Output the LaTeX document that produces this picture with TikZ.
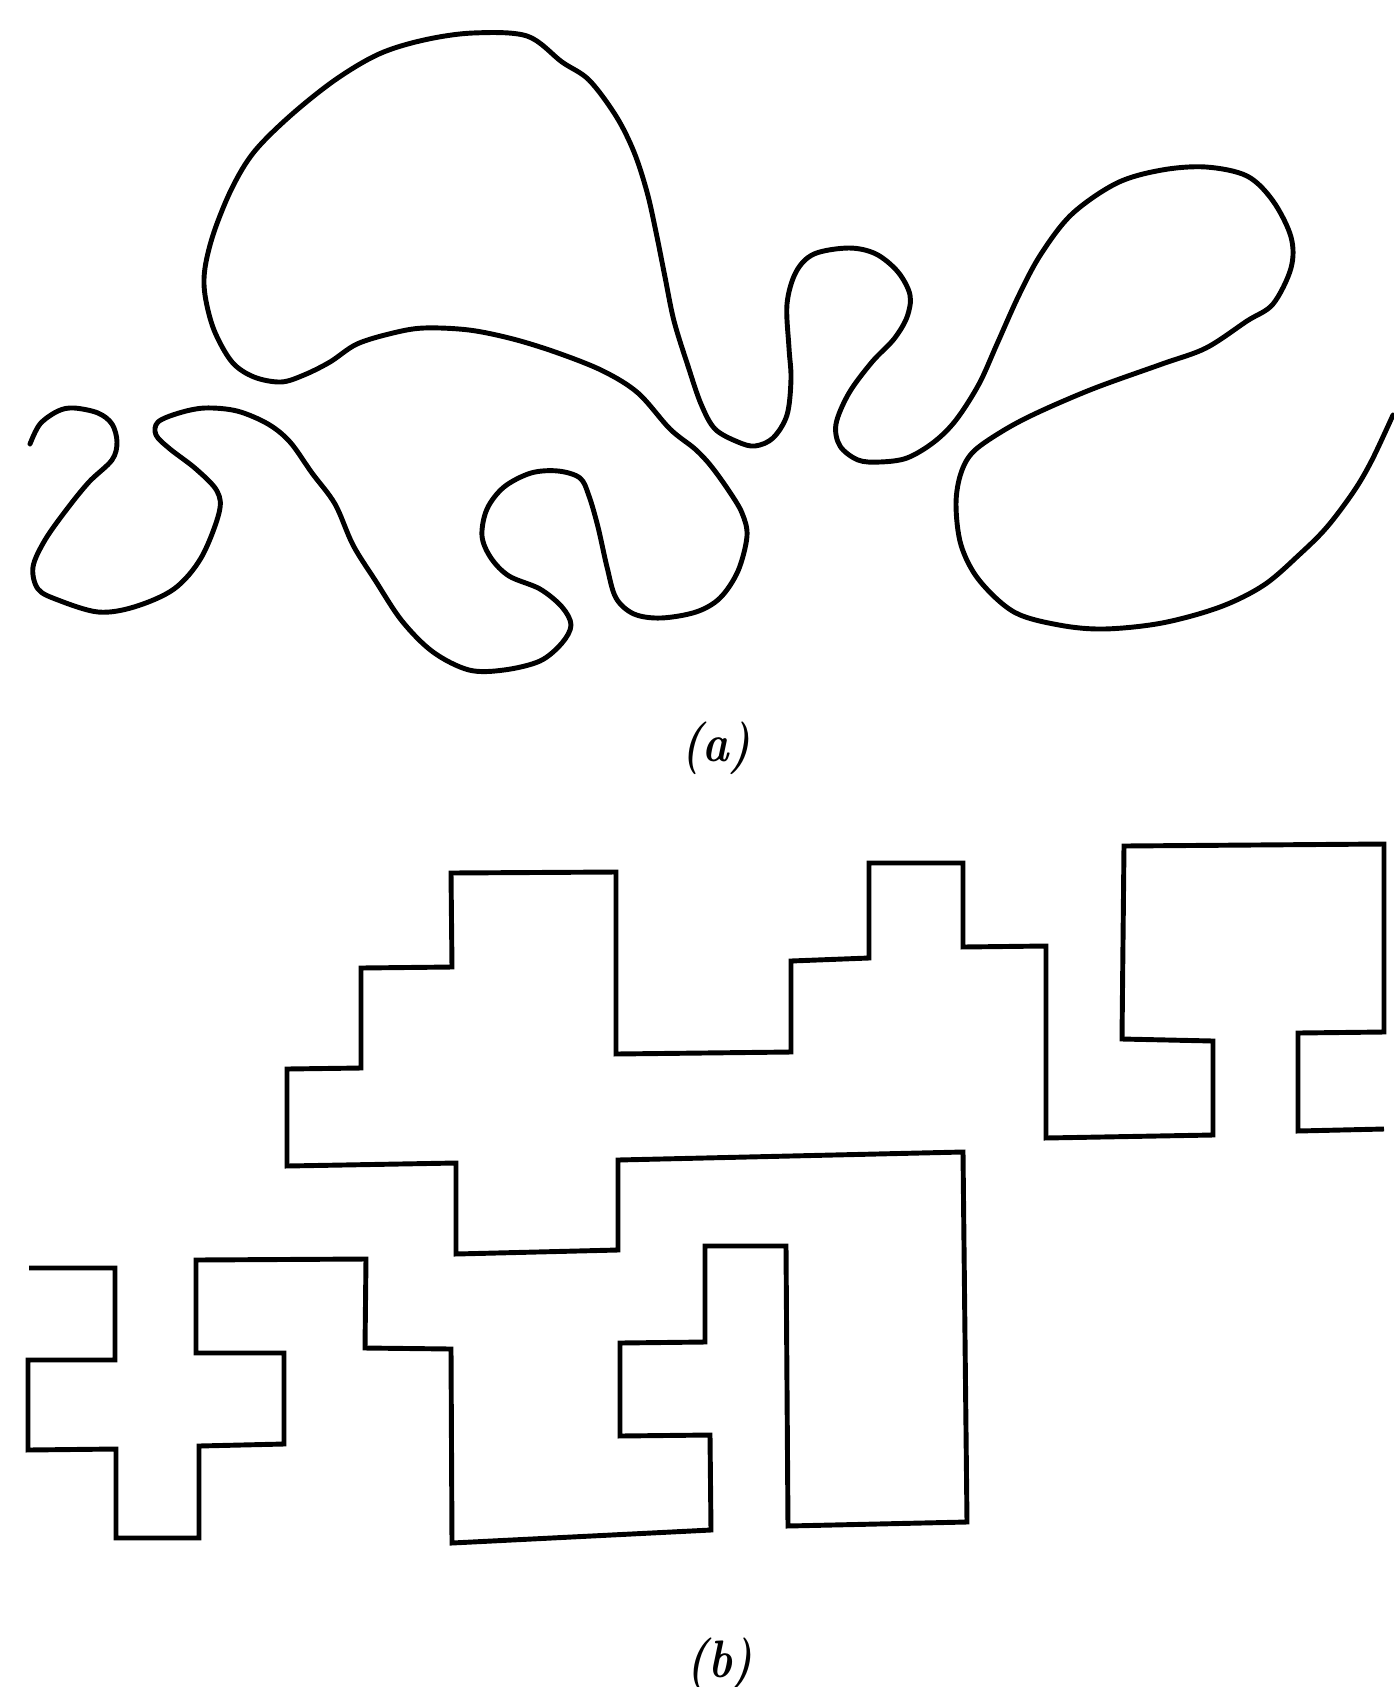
\documentclass[tikz,border=0pt]{standalone}
\usepackage{tikz}

\begin{document}
\begin{tikzpicture}[x=0.01cm, y=-0.01cm,
    freeline/.style={line width=1.4pt, line join=round, line cap=round},
    stepline/.style={line width=1.4pt, line join=miter},
    figcap/.style={font=\fontsize{15}{17}\selectfont\bfseries\itshape, xscale=0.85}]
    \useasboundingbox (0,0) rectangle (1393,1687);

    % (a) free curve
    \draw[freeline] plot[smooth, tension=0.55] coordinates {
        (30,444) (40,424) (58,411) (74,408) (98,413) (112,424) (117,442)
        (112,460) (89,482) (67,509) (45,540) (33,567) (38,589) (58,600)
        (98,612) (134,607) (174,589) (201,558) (219,513) (217,491) (196,469)
        (170,449) (156,435) (158,422) (179,413) (205,408) (237,411) (268,424)
        (290,442) (312,473) (335,504) (353,545) (375,580) (402,621) (433,652)
        (469,670) (504,670) (540,661) (562,643) (571,625) (562,607) (540,589)
        (509,576) (491,558) (482,536) (487,509) (504,487) (531,473) (558,471)
        (580,478) (589,496) (598,527) (607,567) (616,598) (634,614) (661,618)
        (696,612) (720,598) (738,571) (747,536) (742,513) (729,491) (711,466)
        (695,449) (670,429) (638,393) (603,371) (558,353) (513,339) (469,330)
        (424,328) (393,333) (357,344) (330,362) (304,375) (281,382) (254,377)
        (232,362) (214,330) (205,295) (205,268) (214,232) (232,188) (254,152)
        (290,116) (335,80) (379,54) (424,40) (473,33) (527,36) (562,62)
        (589,80) (616,116) (634,152) (647,192) (656,232) (665,277) (674,321)
        (688,366) (701,404) (715,429) (738,442) (755,446) (773,438) (787,415)
        (791,379) (789,348) (787,304) (796,272) (814,254) (849,248) (876,254)
        (898,272) (910,295) (907,317) (894,339) (872,362) (849,393) (836,424)
        (840,446) (858,460) (880,462) (907,458) (934,442) (956,420) (979,384)
        (997,344) (1019,295) (1041,254) (1072,214) (1117,183) (1162,170)
        (1206,167) (1247,176) (1273,201) (1291,237) (1291,268) (1273,304)
        (1247,321) (1206,348) (1162,364) (1095,388) (1041,411) (1006,429)
        (974,451) (961,473) (956,504) (961,545) (979,580) (1014,612)
        (1059,625) (1104,629) (1162,623) (1220,607) (1264,585) (1300,554)
        (1327,527) (1354,491) (1372,460) (1393,415)};

    % (b) staircase outline
    \draw[stepline] (29,1268) -- (115,1268) -- (115,1360) -- (28,1360)
        -- (28,1450) -- (116,1449) -- (116,1538) -- (199,1538) -- (199,1446)
        -- (284,1444) -- (284,1353) -- (196,1353) -- (196,1260) -- (366,1259)
        -- (365,1348) -- (451,1349) -- (452,1543) -- (711,1530) -- (710,1435)
        -- (620,1436) -- (620,1343) -- (705,1342) -- (705,1246) -- (786,1246)
        -- (788,1526) -- (967,1522) -- (963,1152) -- (618,1160) -- (618,1250)
        -- (456,1254) -- (456,1163) -- (287,1166) -- (287,1069) -- (361,1068)
        -- (361,968) -- (452,967) -- (451,873) -- (616,872) -- (616,1054)
        -- (791,1052) -- (791,961) -- (869,958) -- (869,863) -- (963,863)
        -- (963,947) -- (1046,946) -- (1046,1138) -- (1213,1135) -- (1213,1041)
        -- (1122,1039) -- (1124,846) -- (1384,844) -- (1384,1032) -- (1298,1033)
        -- (1298,1131) -- (1384,1129);

    % Captions
    \node[figcap] (capA) at (716,748) {(a)};
    \node[figcap] (capB) at (720,1664) {(b)};
\end{tikzpicture}
\end{document}
